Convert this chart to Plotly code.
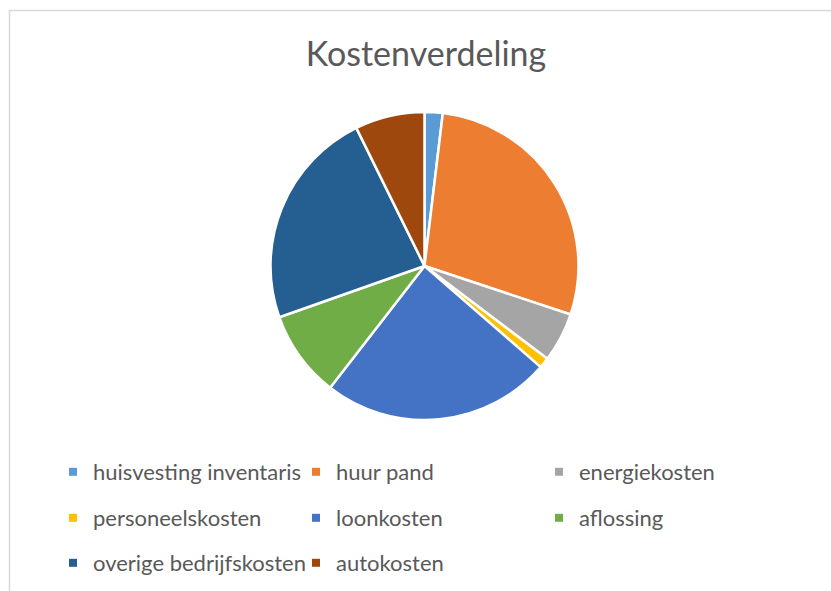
import plotly.graph_objects as go

labels = ["huisvesting inventaris", "huur pand", "energiekosten", "personeelskosten",
          "loonkosten", "aflossing", "overige bedrijfskosten", "autokosten"]
values = [1.9, 28.2, 5.2, 1.1, 24.1, 9.1, 23.1, 7.3]
colors = ["#5B9BD5", "#ED7D31", "#A5A5A5", "#FFC000",
          "#4472C4", "#70AD47", "#255E91", "#9E480E"]
title_text = "Kostenverdeling"

W, H = 831, 591
cx, cy, r = 424.5, 266, 154

fig = go.Figure()
fig.add_trace(go.Pie(
    labels=labels, values=values, sort=False, direction="clockwise", rotation=0,
    marker=dict(colors=colors, line=dict(color="white", width=2.5)),
    textinfo="none", showlegend=False,
    domain=dict(x=[(cx - r) / W, (cx + r) / W], y=[1 - (cy + r) / H, 1 - (cy - r) / H]),
))

legend_names = ["legend", "legend2", "legend3"]
for i, (lab, col) in enumerate(zip(labels, colors)):
    fig.add_trace(go.Scatter(
        x=[None], y=[None], mode="markers", name=lab,
        marker=dict(symbol="square", size=8, color=col),
        legend=legend_names[i // 3], showlegend=True, hoverinfo="skip",
    ))

row_y = [472, 518, 563]
leg_common = dict(orientation="h", xanchor="left", yanchor="middle",
                  x=53 / W, entrywidth=198, entrywidthmode="pixels",
                  font=dict(family="Lato", size=22, color="#595959"),
                  bgcolor="rgba(0,0,0,0)", borderwidth=0, itemclick=False,
                  itemdoubleclick=False)

fig.update_layout(
    width=W, height=H,
    margin=dict(l=0, r=0, t=0, b=0),
    paper_bgcolor="white", plot_bgcolor="white",
    xaxis=dict(visible=False), yaxis=dict(visible=False),
    title=dict(text=title_text, x=426 / W, xanchor="center", y=1 - 54 / H,
               yanchor="middle", yref="container",
               font=dict(family="Lato", size=34, color="#595959")),
    legend=dict(y=1 - row_y[0] / H, **leg_common),
    legend2=dict(y=1 - row_y[1] / H, **leg_common),
    legend3=dict(y=1 - row_y[2] / H, **leg_common),
    shapes=[dict(type="rect", xref="paper", yref="paper",
                 x0=9.5 / W, x1=1.2, y0=-0.2, y1=1 - 10.5 / H,
                 line=dict(color="#D9D9D9", width=1.5), layer="below")],
)

fig.write_html("out.html")
